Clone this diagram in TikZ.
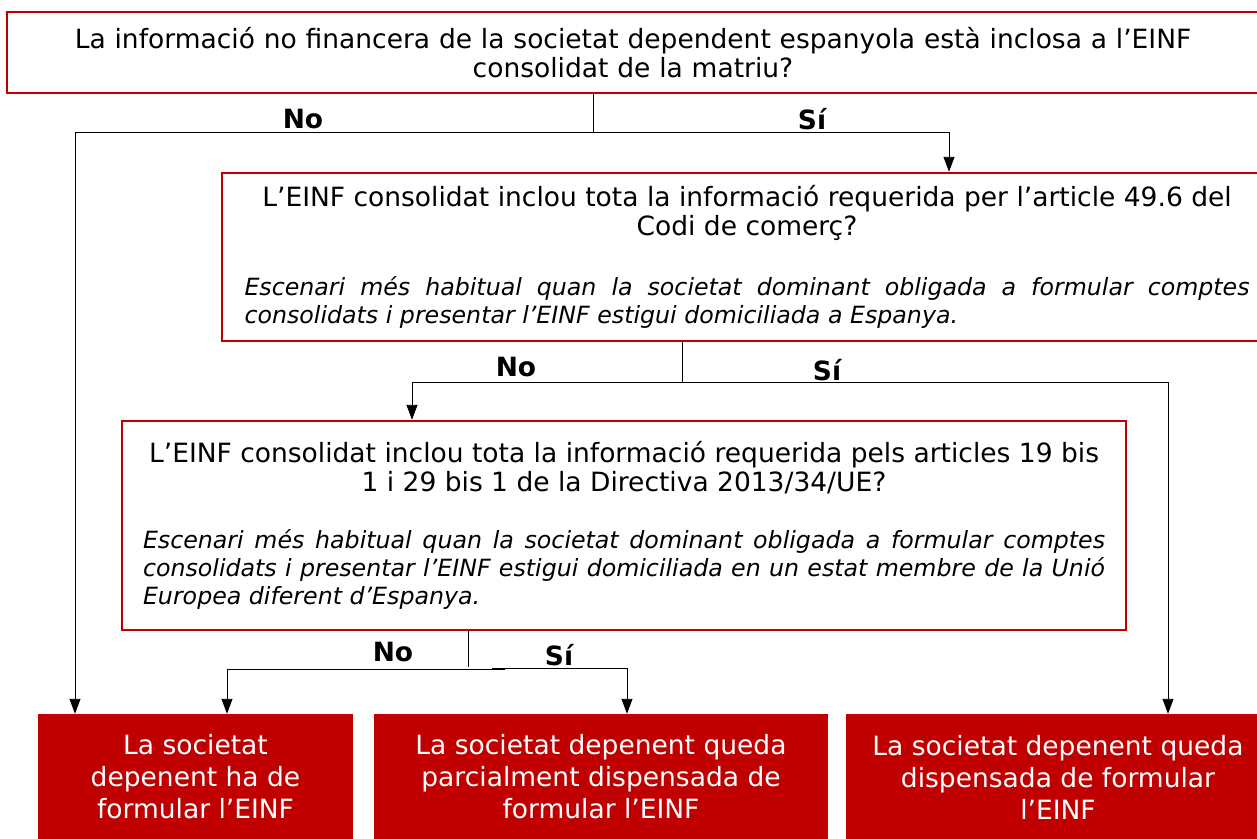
\documentclass[tikz,border=0pt]{standalone}
\usepackage{fontspec}
\setmainfont{DejaVu Sans}
\usetikzlibrary{arrows.meta,calc}
\definecolor{dred}{RGB}{192,0,0}
\newcommand{\itfont}{\itshape\fontsize{23.7}{28}\selectfont}
\begin{document}
\begin{tikzpicture}[x=1pt,y=-1pt,
  qbox/.style={draw=dred,line width=2.4pt,fill=white,inner sep=0pt,font=\fontsize{26.5}{29}\selectfont},
  rbox/.style={fill=dred,text=white,inner sep=0pt,align=center,font=\fontsize{26.5}{32}\selectfont},
  lbl/.style={font=\bfseries\fontsize{26.5}{29}\selectfont},
  conn/.style={line width=0.9pt},
  arr/.style={conn,-{Triangle[width=11pt,length=15pt]}}]
\useasboundingbox (0,0) rectangle (1257,838);
\clip (0,0) rectangle (1257,838);

% question boxes
\node[qbox, minimum width=1252pt, minimum height=81pt, text width=1200pt, align=center] (q1) at (633,52.5)
  {La informació no financera de la societat dependent espanyola està inclosa a l’EINF\\consolidat de la matriu?};

\node[qbox, minimum width=1050pt, minimum height=168pt, text width=1005pt, align=justify] (q2) at (747,257)
  {{\centering L’EINF consolidat inclou tota la informació requerida per l’article 49.6 del\\Codi de comerç?\par}
   \vspace{32pt}
   {\itfont Escenari més habitual quan la societat dominant obligada a formular comptes\linebreak consolidats i presentar l’EINF estigui domiciliada a Espanya.\par}};

\node[qbox, minimum width=1004pt, minimum height=209pt, text width=962pt, align=justify] (q3) at (624,525.5)
  {{\centering L’EINF consolidat inclou tota la informació requerida pels articles 19 bis\\1 i 29 bis 1 de la Directiva 2013/34/UE?\par}
   \vspace{29pt}
   {\itfont Escenari més habitual quan la societat dominant obligada a formular comptes\linebreak consolidats i presentar l’EINF estigui domiciliada en un estat membre de la Unió\linebreak Europea diferent d’Espanya.\par}};

% result boxes
\node[rbox, minimum width=315pt, minimum height=126pt] (r1) at (195.5,777)
  {La societat\\depenent ha de\\formular l’EINF};
\node[rbox, minimum width=454pt, minimum height=126pt] (r2) at (601,777)
  {La societat depenent queda\\parcialment dispensada de\\formular l’EINF};
\node[rbox, minimum width=424pt, minimum height=126pt] (r3) at (1058,777)
  {La societat depenent queda\\dispensada de formular\\l’EINF};

% junctions
\coordinate (j1) at (593,132);
\coordinate (s1) at (626,132.5);
\coordinate (aL) at (75,0);
\coordinate (aR) at (949,0);
\coordinate (j2) at (682,382);
\coordinate (bL) at (412,0);
\coordinate (bR) at (1168,0);
\coordinate (j3) at (468,667);
\coordinate (c1) at (505,669);
\coordinate (c2) at (492,668);
\coordinate (cL) at (227,0);
\coordinate (cR) at (627,0);

% connectors level 1
\draw[conn] (q1.south -| j1) -- (j1);
\draw[arr] (s1) -- (s1 -| aL) -- (r1.north -| aL);
\draw[arr] (j1) -- (j1 -| aR) -- (q2.north -| aR);
\node[lbl] (n1) at (303,119) {No};
\node[lbl] (y1) at (812,119) {Sí};

% connectors level 2
\draw[conn] (q2.south -| j2) -- (j2);
\draw[arr] (j2) -- (j2 -| bL) -- (q3.north -| bL);
\draw[arr] (j2) -- (j2 -| bR) -- (r3.north -| bR);
\node[lbl] (n2) at (516,367) {No};
\node[lbl] (y2) at (827,370) {Sí};

% connectors level 3
\draw[conn] (q3.south -| j3) -- (j3);
\draw[arr] (c1) -- (c1 -| cL) -- (r1.north -| cL);
\draw[arr] (c2) -- (c2 -| cR) -- (r2.north -| cR);
\node[lbl] (n3) at (393,652) {No};
\node[lbl] (y3) at (559,655) {Sí};
\end{tikzpicture}
\end{document}
